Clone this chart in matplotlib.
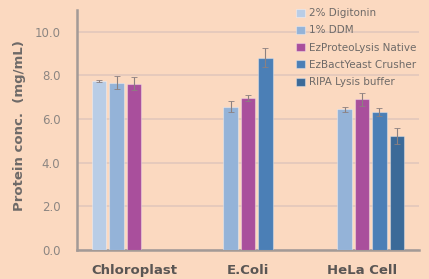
import matplotlib
matplotlib.use("Agg")
import matplotlib.pyplot as plt
import numpy as np

categories = ["Chloroplast", "E.Coli", "HeLa Cell"]
series_names = ["2% Digitonin", "1% DDM", "EzProteoLysis Native",
                "EzBactYeast Crusher", "RIPA Lysis buffer"]
# NaN = no bar for that group
values = [
    [7.75, np.nan, np.nan],   # 2% Digitonin
    [7.67, 6.56, 6.44],       # 1% DDM
    [7.63, 6.96, 6.91],       # EzProteoLysis Native
    [np.nan, 8.82, 6.33],     # EzBactYeast Crusher
    [np.nan, np.nan, 5.22],   # RIPA Lysis buffer
]
errors = [
    [0.05, np.nan, np.nan],
    [0.30, 0.25, 0.10],
    [0.30, 0.15, 0.30],
    [np.nan, 0.43, 0.20],
    [np.nan, np.nan, 0.35],
]
yticks = [0.0, 2.0, 4.0, 6.0, 8.0, 10.0]

colors = ["#B9CDE6", "#94B3D8", "#A94F9C", "#4B7FB6", "#3B6A98"]
bg = "#FBD9C0"

fig = plt.figure(figsize=(4.29, 2.79), dpi=100, facecolor=bg)
ax = fig.add_axes([77/429, 1-250/279, (419-77)/429, 240/279])
ax.set_facecolor(bg)

x = np.arange(len(categories))
step = 0.1535
width = 0.123
for i, (name, vals, errs) in enumerate(zip(series_names, values, errors)):
    offs = (i - 2) * step
    ax.bar(x + offs, vals, width=width, color=colors[i], label=name,
           edgecolor=(1, 1, 1, 0.35), linewidth=0.8, zorder=3)
    ax.errorbar(x + offs, vals, yerr=errs, fmt="none", ecolor="#8C8080",
                elinewidth=0.8, capsize=2, capthick=0.6, zorder=4)

ax.set_xlim(-0.5, 2.5)
ax.set_ylim(0, 11)
ax.set_yticks(yticks)
ax.set_yticklabels([f"{v:.1f}" for v in yticks])
ax.set_xticks(x)
ax.set_xticklabels(categories)
ax.grid(axis="y", color="#E2C8BC", linewidth=1.2, zorder=0)
ax.set_axisbelow(True)
for s in ["top", "right"]:
    ax.spines[s].set_visible(False)
for s in ["left", "bottom"]:
    ax.spines[s].set_color("#A39A96")
    ax.spines[s].set_linewidth(1.8)
ax.tick_params(axis="both", length=0)
ax.tick_params(axis="y", pad=12, labelsize=8.5, labelcolor="#8C8682")
ax.tick_params(axis="x", pad=10, labelsize=9.5, labelcolor="#5A5654")
for lbl in ax.get_xticklabels():
    lbl.set_fontweight("bold")
ax.set_ylabel("Protein conc.  (mg/mL)", fontsize=9.5, fontweight="bold",
              color="#6E6A68", va="center")
ax.yaxis.set_label_coords(-0.167, 0.52)

leg = fig.legend(loc="upper left", bbox_to_anchor=(292/429, 1-4/279),
                 frameon=False, fontsize=7.5, handlelength=0.8,
                 handleheight=0.8, handletextpad=0.4, labelspacing=0.7,
                 borderaxespad=0)
for t in leg.get_texts():
    t.set_color("#6E6A68")

fig.savefig("out.png", dpi=100, facecolor=bg)
